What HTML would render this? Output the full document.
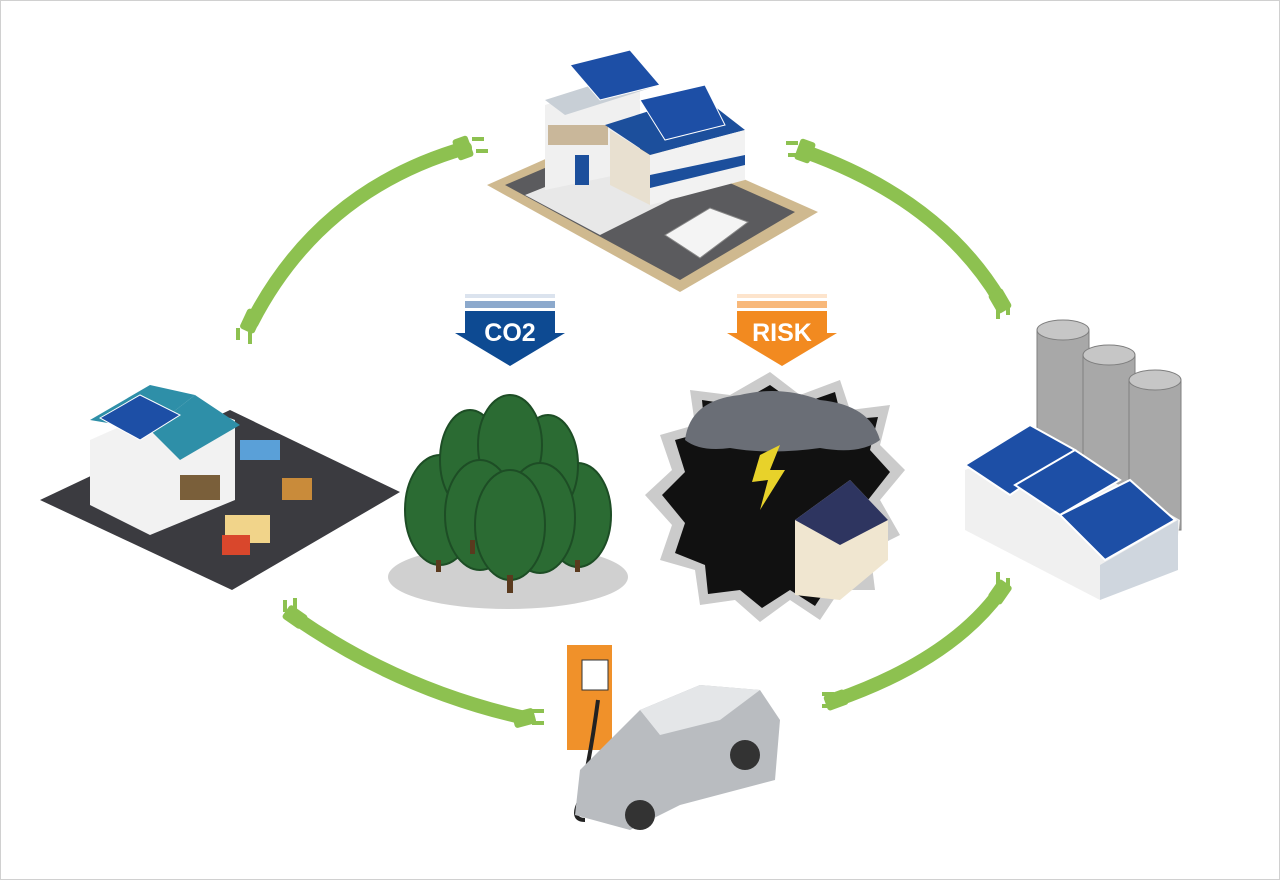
<!DOCTYPE html>
<html><head><meta charset="utf-8"><style>
html,body{margin:0;padding:0;background:#fff}
svg{display:block}
text{font-family:"Liberation Sans",sans-serif;font-weight:bold}
</style></head><body>
<svg width="1280" height="880" viewBox="0 0 1280 880" xmlns="http://www.w3.org/2000/svg">
<rect x="0.5" y="0.5" width="1279" height="879" fill="#fff" stroke="#d0d0d0"/>
<g fill="none" stroke="#8dc150" stroke-width="14" stroke-linecap="round">
<path d="M252 322 Q320 190 465 148"/>
<path d="M806 152 Q940 200 1000 300"/>
<path d="M296 618 Q400 690 525 718"/>
<path d="M836 700 Q950 660 1000 592"/>
</g>
<g fill="#8dc150">
<rect x="455" y="137" width="16" height="22" rx="3" transform="rotate(-20 463 148)"/>
<rect x="472" y="137" width="12" height="4"/><rect x="476" y="149" width="12" height="4"/>
<rect x="243" y="310" width="16" height="22" rx="3" transform="rotate(25 251 321)"/>
<rect x="236" y="328" width="4" height="12"/><rect x="248" y="332" width="4" height="12"/>
<rect x="797" y="140" width="16" height="22" rx="3" transform="rotate(20 805 151)"/>
<rect x="786" y="141" width="12" height="4"/><rect x="788" y="153" width="12" height="4"/>
<rect x="992" y="290" width="16" height="22" rx="3" transform="rotate(-30 1000 301)"/>
<rect x="996" y="307" width="4" height="12"/><rect x="1006" y="303" width="4" height="12"/>
<rect x="287" y="606" width="16" height="22" rx="3" transform="rotate(-55 295 617)"/>
<rect x="283" y="600" width="4" height="12"/><rect x="293" y="598" width="4" height="12"/>
<rect x="516" y="707" width="16" height="22" rx="3" transform="rotate(75 524 718)"/>
<rect x="532" y="709" width="12" height="4"/><rect x="532" y="721" width="12" height="4"/>
<rect x="828" y="689" width="16" height="22" rx="3" transform="rotate(70 836 700)"/>
<rect x="822" y="692" width="12" height="4"/><rect x="822" y="704" width="12" height="4"/>
<rect x="992" y="581" width="16" height="22" rx="3" transform="rotate(35 1000 592)"/>
<rect x="996" y="572" width="4" height="12"/><rect x="1006" y="578" width="4" height="12"/>
</g>
<!-- house -->
<polygon points="487,185 622,125 818,212 680,292" fill="#cfb98f"/>
<polygon points="505,185 622,135 795,212 680,280" fill="#5b5b5e"/>
<polygon points="525,195 600,165 670,200 600,235" fill="#e8e8e8"/>
<polygon points="545,105 640,75 640,170 545,190" fill="#f0f0f0"/>
<polygon points="545,100 640,70 660,85 565,115" fill="#c8cfd6"/>
<rect x="548" y="125" width="60" height="20" fill="#c9b79a"/>
<polygon points="605,125 700,95 745,130 650,155" fill="#1c4f9c"/>
<polygon points="650,155 745,130 745,180 650,205" fill="#f2f2f2"/>
<polygon points="650,175 745,155 745,165 650,188" fill="#1c4f9c"/>
<polygon points="610,130 650,155 650,205 610,185" fill="#e8e0d0"/>
<rect x="575" y="155" width="14" height="30" fill="#1c4f9c"/>
<polygon points="570,65 630,50 660,85 600,100" fill="#1d4fa6" stroke="#fff"/>
<polygon points="640,100 705,85 725,125 665,140" fill="#1d4fa6" stroke="#fff"/>
<polygon points="665,235 710,208 748,222 700,258" fill="#f4f4f4" stroke="#888"/>
<!-- warehouse -->
<polygon points="40,500 230,410 400,492 232,590" fill="#3b3b40"/>
<polygon points="90,440 180,400 235,420 235,500 150,535 90,505" fill="#f2f2f2"/>
<polygon points="90,420 150,385 195,395 150,430" fill="#2e8fa8"/>
<polygon points="150,430 195,395 240,425 180,460" fill="#2e8fa8"/>
<polygon points="100,418 140,395 180,415 140,440" fill="#1d4fa6" stroke="#fff"/>
<rect x="180" y="475" width="40" height="25" fill="#7a5f3a"/>
<rect x="225" y="515" width="45" height="28" fill="#f1d48a"/>
<rect x="222" y="535" width="28" height="20" fill="#d9472c"/>
<rect x="240" y="440" width="40" height="20" fill="#5aa0d8"/>
<rect x="282" y="478" width="30" height="22" fill="#c98b3a"/>
<!-- arrows -->
<rect x="465" y="294" width="90" height="4" fill="#dbe3ee"/>
<rect x="465" y="301" width="90" height="7" fill="#8ca9cc"/>
<polygon points="465,311 555,311 555,333 565,333 510,366 455,333 465,333" fill="#0d4a92"/>
<text x="510" y="341" font-size="25" fill="#fff" text-anchor="middle">CO2</text>
<rect x="737" y="294" width="90" height="4" fill="#fde4cc"/>
<rect x="737" y="301" width="90" height="7" fill="#f8b87a"/>
<polygon points="737,311 827,311 827,333 837,333 782,366 727,333 737,333" fill="#f28a20"/>
<text x="782" y="341" font-size="25" fill="#fff" text-anchor="middle">RISK</text>
<!-- trees -->
<ellipse cx="508" cy="577" rx="120" ry="32" fill="#d0d0d0"/>
<g fill="#2b6b33" stroke="#1d4d25" stroke-width="2">
<ellipse cx="440" cy="510" rx="35" ry="55"/><ellipse cx="578" cy="515" rx="33" ry="52"/>
<ellipse cx="470" cy="460" rx="30" ry="50"/><ellipse cx="548" cy="465" rx="30" ry="50"/>
<ellipse cx="510" cy="445" rx="32" ry="50"/>
<ellipse cx="480" cy="515" rx="35" ry="55"/><ellipse cx="540" cy="518" rx="35" ry="55"/>
<ellipse cx="510" cy="525" rx="35" ry="55"/>
</g>
<g fill="#5a3a1e"><rect x="436" y="560" width="5" height="12"/><rect x="507" y="575" width="6" height="18"/><rect x="575" y="560" width="5" height="12"/><rect x="470" y="540" width="5" height="14"/></g>
<!-- storm -->
<polygon points="770,372 800,395 840,380 850,410 890,405 880,445 905,470 880,500 900,535 870,550 875,590 840,590 820,620 790,600 760,622 735,600 700,605 695,570 660,560 672,525 645,495 672,470 660,435 695,425 690,390 730,395" fill="#cbcbcb"/>
<polygon points="770,385 798,405 835,392 842,420 878,417 870,450 890,472 868,500 886,532 860,545 862,580 832,580 815,606 790,590 762,608 740,590 708,594 705,565 675,553 685,523 662,495 685,472 675,440 705,432 702,400 735,405" fill="#111"/>
<path d="M685 440 Q690 400 740 395 Q780 385 820 400 Q870 405 880 440 Q860 455 820 448 Q770 455 730 448 Q700 452 685 440Z" fill="#6a6e76"/>
<polygon points="760,455 780,445 770,470 785,470 760,510 768,480 752,482" fill="#e8d22a"/>
<polygon points="795,520 850,480 888,520 888,560 840,600 795,595" fill="#f0e6d0"/>
<polygon points="795,520 850,480 888,520 840,545" fill="#2e3560"/>
<!-- factory -->
<g fill="#a8a8a8" stroke="#7f7f7f">
<rect x="1037" y="330" width="52" height="160"/><ellipse cx="1063" cy="330" rx="26" ry="10" fill="#c6c6c6"/>
<rect x="1083" y="355" width="52" height="160"/><ellipse cx="1109" cy="355" rx="26" ry="10" fill="#c6c6c6"/>
<rect x="1129" y="380" width="52" height="150"/><ellipse cx="1155" cy="380" rx="26" ry="10" fill="#c6c6c6"/>
</g>
<polygon points="965,470 1040,440 1180,520 1175,560 1100,600 965,530" fill="#f0f0f0"/>
<polygon points="1100,565 1178,520 1178,570 1100,600" fill="#cfd6de"/>
<polygon points="965,465 1030,425 1075,450 1010,495" fill="#1d4fa6" stroke="#fff" stroke-width="2"/>
<polygon points="1015,485 1075,450 1120,480 1060,515" fill="#1d4fa6" stroke="#fff" stroke-width="2"/>
<polygon points="1060,515 1130,480 1175,520 1105,560" fill="#1d4fa6" stroke="#fff" stroke-width="2"/>
<!-- EV -->
<rect x="567" y="645" width="45" height="105" fill="#f0912a"/>
<rect x="582" y="660" width="26" height="30" fill="#fff" stroke="#333"/>
<path d="M598 700 Q590 760 580 800 Q570 820 585 820" fill="none" stroke="#222" stroke-width="4"/>
<polygon points="590,760 640,710 700,685 760,690 780,720 775,780 680,805 630,830 575,815 580,770" fill="#b9bcc0"/>
<polygon points="640,710 700,685 760,690 720,720 660,735" fill="#e4e6e8"/>
<circle cx="745" cy="755" r="15" fill="#333"/><circle cx="640" cy="815" r="15" fill="#333"/>
</svg>
</body></html>
